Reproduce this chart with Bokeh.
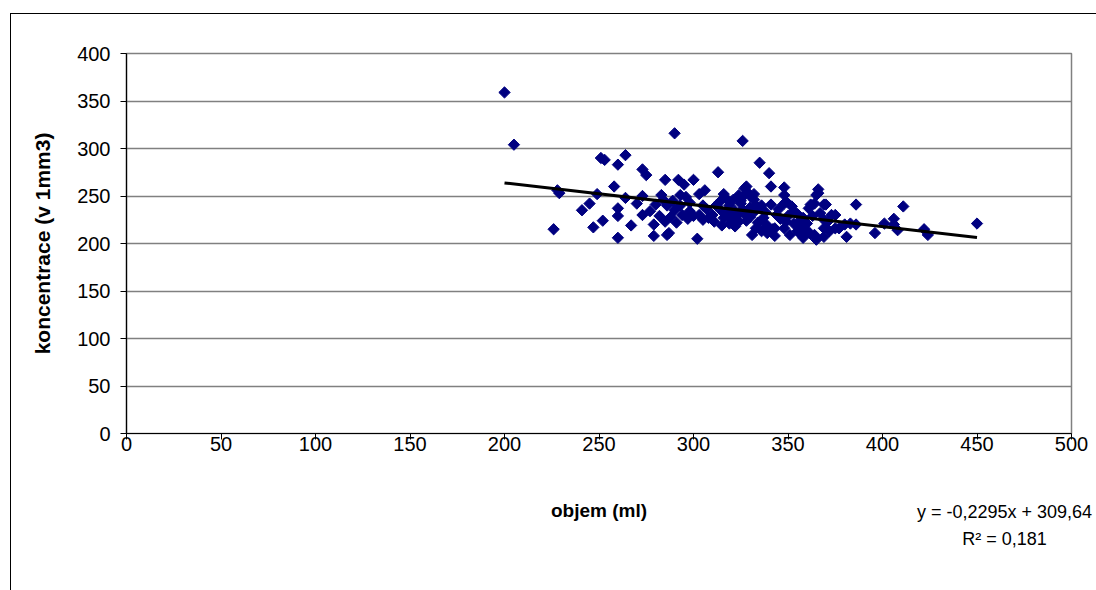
from bokeh.plotting import figure
from bokeh.models import Range1d, FixedTicker, Label, ColumnDataSource
from bokeh.embed import file_html
from bokeh.resources import INLINE
import numpy as np

# Volume (ml) of each sample
objem = [
    200, 205, 226, 228, 229, 241, 245, 247, 249, 252, 251, 253,
    258, 260, 260, 260, 260, 264, 264, 267, 270, 273, 273, 273, 275,
    279, 279, 280, 283, 284, 285, 285, 286, 287, 290, 290, 292, 293,
    294, 295, 296, 298, 300, 302, 303, 303, 306, 308, 311, 313, 315,
    316, 316, 321, 322, 322, 324, 324, 326, 327, 328, 329, 331, 332,
    335, 337, 340, 341, 341, 342, 343, 348, 348, 348, 348, 349, 349,
    353, 353, 355, 356, 357, 359, 361, 362, 362, 364, 364, 365, 365,
    366, 366, 369, 369, 369, 369, 370, 373, 375, 375, 377, 380, 381,
    383, 386, 386, 396, 401, 406, 406, 408, 411, 422, 424, 450,
    288, 291, 297, 300, 305, 307, 310, 312, 318, 319, 320, 323, 325,
    326, 327, 328, 330, 330, 333, 334, 336, 338, 339, 344, 345, 346,
    350, 352, 355, 358, 360, 363, 367, 371, 372, 298, 293, 305, 314,
    318, 326, 332, 277, 282, 286, 289, 315, 319, 333, 336, 339, 343,
    351, 356, 358, 325, 330, 333,
]

# Concentration (per 1 mm3) of each sample
koncentrace = [
    359, 304, 215, 256, 253, 235, 242, 217, 252, 224, 290, 288,
    260, 283, 237, 229, 206, 293, 248, 219, 242, 230, 250, 278, 272,
    220, 208, 241, 251, 246, 267, 223, 209, 211, 316, 235, 267, 251,
    230, 262, 249, 234, 267, 205, 252, 230, 256, 227, 223, 275, 234,
    252, 227, 246, 218, 234, 251, 223, 308, 258, 260, 253, 209, 246,
    285, 227, 274, 260, 241, 215, 216, 259, 251, 242, 216, 244, 223,
    234, 221, 213, 223, 218, 216, 237, 241, 210, 242, 209, 251, 204,
    257, 253, 241, 225, 216, 207, 241, 230, 230, 216, 216, 220, 207,
    221, 241, 220, 211, 221, 226, 220, 214, 239, 215, 209, 221,
    228, 222, 226, 229, 225, 236, 230, 240, 231, 240, 226, 229, 242,
    236, 231, 224, 238, 228, 235, 222, 240, 233, 219, 230, 236, 226,
    229, 239, 231, 227, 221, 229, 232, 223, 213, 243, 240, 240, 244,
    246, 249, 252, 234, 229, 240, 245, 219, 221, 216, 213, 211, 208,
    209, 211, 206, 245, 250, 240,
]

# Linear trend line
sklon = -0.2295
posun = 309.64
rovnice = "y = -0,2295x + 309,64"
r2_text = "R\u00b2 = 0,181"

x_ticks = list(range(0, 501, 50))
y_ticks = list(range(0, 401, 50))

FONT = "Liberation Sans"

p = figure(
    frame_width=945, frame_height=380,
    min_border_left=115, min_border_right=26,
    min_border_top=39, min_border_bottom=158,
    x_range=Range1d(0, 500), y_range=Range1d(0, 400),
    output_backend="svg", toolbar_location=None,
    background_fill_color="white", border_fill_color="white",
)
p.styles = {
    "margin-left": "10px", "margin-top": "13px",
    "border-left": "1px solid black", "border-top": "1px solid black",
}

p.outline_line_color = "#808080"
p.outline_line_width = 1.5
p.xgrid.grid_line_color = None
p.ygrid.grid_line_color = "#808080"
p.ygrid.grid_line_width = 1.5

p.xaxis.ticker = FixedTicker(ticks=x_ticks)
p.yaxis.ticker = FixedTicker(ticks=y_ticks)
for ax in (p.xaxis, p.yaxis):
    ax.axis_line_color = "black"
    ax.axis_line_width = 1.2
    ax.major_tick_line_color = "black"
    ax.major_tick_in = 0
    ax.major_tick_out = 6
    ax.minor_tick_line_color = None
    ax.major_label_text_font = FONT
    ax.major_label_text_font_size = "20px"
    ax.major_label_text_color = "black"
    ax.axis_label_text_font = FONT
    ax.axis_label_text_font_style = "bold"
    ax.axis_label_text_color = "black"

p.xaxis.axis_label = "objem (ml)"
p.yaxis.axis_label = "koncentrace (v 1mm3)"
p.xaxis.axis_label_text_font_size = "19px"
p.yaxis.axis_label_text_font_size = "21px"
p.xaxis.major_label_standoff = -3
p.yaxis.major_label_standoff = 10
p.xaxis.axis_label_standoff = 46
p.yaxis.axis_label_standoff = 20

src = ColumnDataSource(data=dict(x=objem, y=koncentrace))
p.scatter("x", "y", source=src, marker="square", angle=np.pi / 4, size=8,
          fill_color="#000080", line_color="#000080")

tx = np.array([min(objem), max(objem)], dtype=float)
p.line(tx, sklon * tx + posun, line_color="black", line_width=3)

# Trend-line equation and R², two centred lines in the panel under the axis
p.add_layout(Label(x=878, y=45, x_units="screen", y_units="screen",
                   text=rovnice + "\n" + r2_text,
                   text_align="center", text_baseline="middle",
                   text_line_height=1.35,
                   text_font=FONT, text_font_size="18px", text_color="black"),
             "below")

open("out.html", "w").write(file_html(p, INLINE))
